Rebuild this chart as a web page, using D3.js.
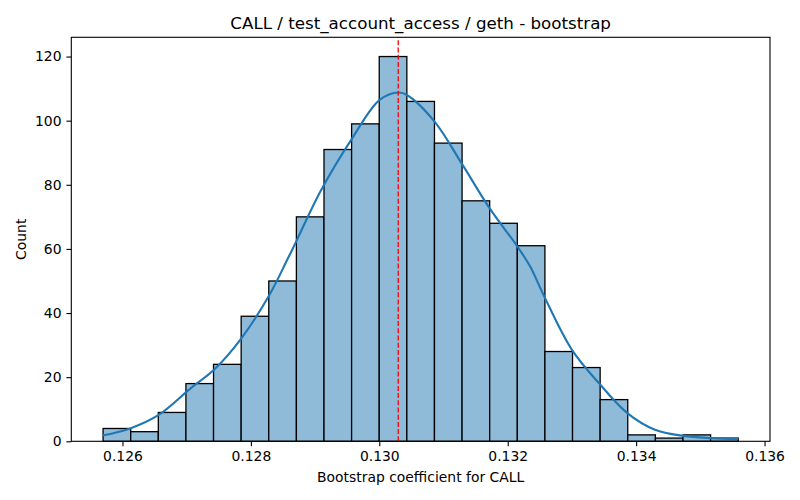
<!DOCTYPE html>
<html>
<head>
  <title>CALL bootstrap histogram</title>
  <script src="https://d3js.org/d3.v7.min.js"></script>
  <style>
    body { margin: 0; background: #fff; }
    text { font-family: "DejaVu Sans", sans-serif; fill: #000; }
  </style>
</head>
<body>
  <div id="chart"></div>
  <script>
    // histogram bins (23 equal bins between binStart and binEnd)
    const binStart = 0.125698;
    const binEnd = 0.13559;
    const counts = [4, 3, 9, 18, 24, 39, 50, 70, 91, 99, 120, 106, 93, 75, 68, 61, 28, 23, 13, 2, 1, 2, 1];

    // kde curve (x value, count)
    const kdeX = [0.125689, 0.12613, 0.12657, 0.127065, 0.127425, 0.127855, 0.12829, 0.128566, 0.12871, 0.129084,
                  0.129577, 0.130006, 0.130302, 0.13043, 0.130861, 0.131297, 0.131717, 0.132152,
                  0.13235, 0.132568, 0.132998, 0.13344, 0.133863, 0.134294, 0.134734, 0.135149, 0.13559];
    const kdeY = [1.8, 4.1, 8.3, 16.6, 22.3, 32.2, 45.7, 56.6, 62.5, 78,
                  94.5, 106.5, 108.8, 108, 99.7, 86.2, 72.7, 60.7,
                  54.5, 45.2, 28.6, 17.7, 8.8, 3.6, 1.7, 1.0, 0.7];

    const meanValue = 0.130295;
    const xTicks = [0.126, 0.128, 0.130, 0.132, 0.134, 0.136];
    const yTicks = [0, 20, 40, 60, 80, 100, 120];

    const W = 800, H = 500;
    const margin = { top: 37.3, right: 30, bottom: 58.7, left: 71.3 };

    const svg = d3.select("#chart").append("svg")
      .attr("width", W).attr("height", H);

    const xScale = d3.scaleLinear()
      .domain([0.125203, 0.136085])
      .range([margin.left, W - margin.right]);
    const yScale = d3.scaleLinear()
      .domain([0, 126])
      .range([H - margin.bottom, margin.top]);

    const binWidth = (binEnd - binStart) / counts.length;
    const bins = counts.map((c, i) => ({
      x0: binStart + i * binWidth,
      x1: binStart + (i + 1) * binWidth,
      count: c
    }));

    svg.selectAll(".bar")
      .data(bins)
      .enter().append("rect")
      .attr("class", "bar")
      .attr("x", d => xScale(d.x0))
      .attr("y", d => yScale(d.count))
      .attr("width", d => xScale(d.x1) - xScale(d.x0))
      .attr("height", d => yScale(0) - yScale(d.count))
      .attr("fill", "#8fbbd9")
      .attr("stroke", "#000")
      .attr("stroke-width", 1.3);

    const line = d3.line()
      .x((d, i) => xScale(kdeX[i]))
      .y(d => yScale(d))
      .curve(d3.curveCatmullRom.alpha(0.5));

    svg.append("path")
      .datum(kdeY)
      .attr("d", line)
      .attr("fill", "none")
      .attr("stroke", "#1f77b4")
      .attr("stroke-width", 2.1);

    svg.append("line")
      .attr("x1", xScale(meanValue)).attr("x2", xScale(meanValue))
      .attr("y1", yScale(0)).attr("y2", margin.top)
      .attr("stroke", "red")
      .attr("stroke-width", 1.3)
      .attr("stroke-dasharray", "5,2.2");

    // axes
    const xAxis = svg.append("g")
      .attr("transform", "translate(0," + yScale(0) + ")")
      .call(d3.axisBottom(xScale).tickValues(xTicks).tickFormat(d3.format(".3f")).tickSizeOuter(0).tickSize(4.9).tickPadding(4.9));
    const yAxis = svg.append("g")
      .attr("transform", "translate(" + margin.left + ",0)")
      .call(d3.axisLeft(yScale).tickValues(yTicks).tickSizeOuter(0).tickSize(4.9).tickPadding(4.9));

    [xAxis, yAxis].forEach(g => {
      g.select(".domain").remove();
      g.selectAll("line").attr("stroke", "#000").attr("stroke-width", 1.1);
      g.selectAll("text").style("font-size", "13.9px").style("font-family", "DejaVu Sans");
    });

    // frame
    svg.append("rect")
      .attr("x", margin.left).attr("y", margin.top)
      .attr("width", W - margin.right - margin.left)
      .attr("height", H - margin.bottom - margin.top)
      .attr("fill", "none")
      .attr("stroke", "#000")
      .attr("stroke-width", 1.1);

    svg.append("text")
      .attr("x", (margin.left + W - margin.right) / 2)
      .attr("y", 29)
      .attr("text-anchor", "middle")
      .style("font-size", "16.7px")
      .text("CALL / test_account_access / geth - bootstrap");

    svg.append("text")
      .attr("x", (margin.left + W - margin.right) / 2)
      .attr("y", 482)
      .attr("text-anchor", "middle")
      .style("font-size", "13.9px")
      .text("Bootstrap coefficient for CALL");

    svg.append("text")
      .attr("transform", "translate(26," + (margin.top + (H - margin.bottom - margin.top) / 2) + ") rotate(-90)")
      .attr("text-anchor", "middle")
      .style("font-size", "13.9px")
      .text("Count");
  </script>
</body>
</html>
